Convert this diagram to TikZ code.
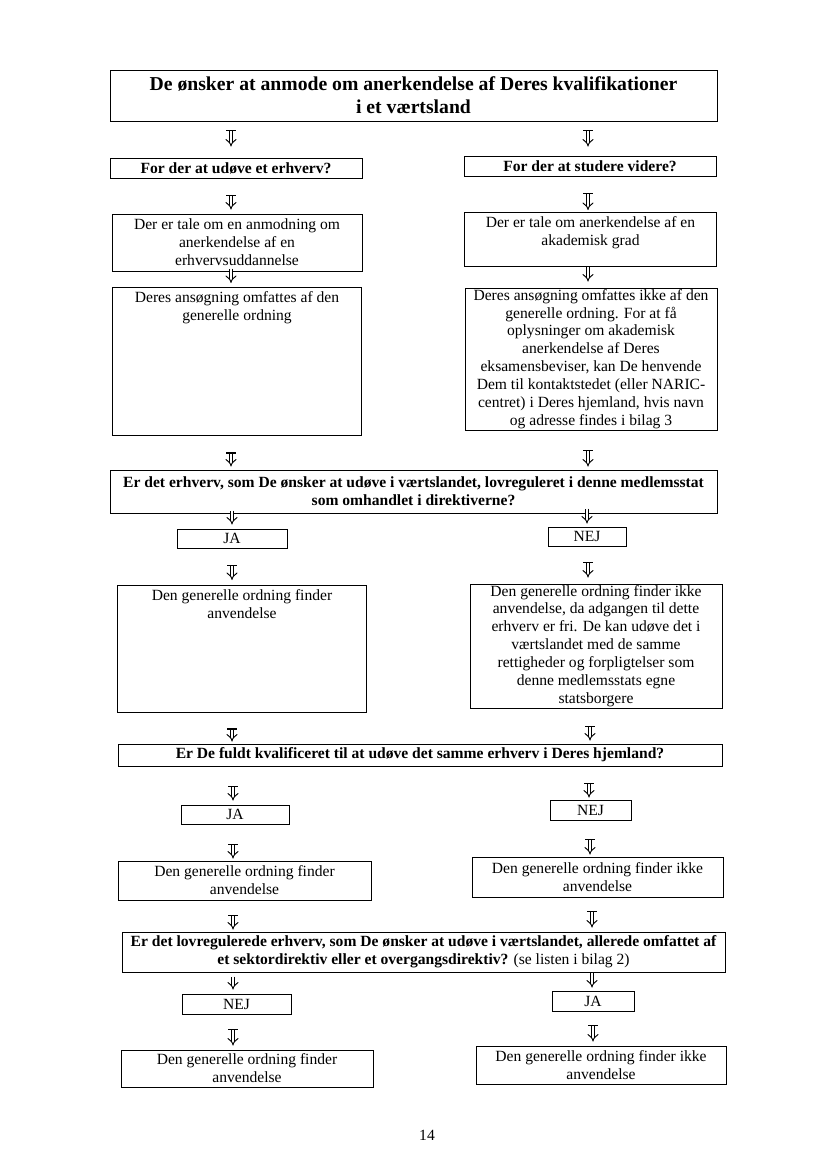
\documentclass[tikz,border=0pt]{standalone}
\usepackage{fontspec}
\setmainfont{Liberation Serif}
\usetikzlibrary{arrows.meta,calc}
\newlength\px \setlength\px{0.03cm}
\tikzset{
  bx/.style={draw, line width=0.85pt, inner sep=0pt, align=center, font=\fontsize{13.3}{15.3}\selectfont},
  qbx/.style={bx, font=\bfseries\fontsize{13.3}{15.4}\selectfont},
  tbx/.style={bx, font=\bfseries\fontsize{16.8}{19.5}\selectfont},
  topbx/.style={draw, line width=0.85pt, inner sep=0pt, anchor=north west, font=\fontsize{13.3}{15.3}\selectfont},
  dar/.style={double, double distance=2.5pt, line width=0.8pt, -{Implies}},
  barln/.style={line width=1.1pt},
}
\newcommand\conn[5]{\draw[dar, shorten <=#4*\px, shorten >=#5*\px] (#1.south -| #3,0) -- (#2.north -| #3,0);}
\newcommand\bconn[5]{\conn{#1}{#2}{#3}{#4}{#5}\draw[barln] ($(#1.south -| #3,0)+(-5*\px,-#4*\px)$) -- ++(10*\px,0pt);}
\begin{document}
\begin{tikzpicture}[x=0.03cm, y=-0.03cm]
\useasboundingbox[fill=white] (0,0) rectangle (827,1163);

\node[tbx, minimum width=607*\px, minimum height=51*\px] (title) at (413.5,95.5) {De ønsker at anmode om anerkendelse af Deres kvalifikationer\\ i et værtsland};

\node[qbx, minimum width=252*\px, minimum height=20*\px] (b1) at (236,168) {For der at udøve et erhverv?};
\node[qbx, minimum width=252*\px, minimum height=20*\px] (b2) at (590,166) {For der at studere videre?};

\node[bx, minimum width=250*\px, minimum height=57*\px] (c1) at (237,242.5) {Der er tale om en anmodning om\\ anerkendelse af en\\ erhvervsuddannelse};
\node[topbx] (c2) at (464,212) {\parbox[t][54\px][t]{252\px}{\centering\rule{0pt}{15\px}Der er tale om anerkendelse af en\\ akademisk grad}};

\node[topbx] (d1) at (112,287) {\parbox[t][148\px][t]{249\px}{\centering\rule{0pt}{15\px}Deres ansøgning omfattes af den\\ generelle ordning}};
\node[bx, minimum width=252*\px, minimum height=142*\px] (d2) at (591,359) {Deres ansøgning omfattes ikke af den\\ generelle ordning. For at få\\ oplysninger om akademisk\\ anerkendelse af Deres\\ eksamensbeviser, kan De henvende\\ Dem til kontaktstedet (eller NARIC-\\ centret) i Deres hjemland, hvis navn\\ og adresse findes i bilag 3};

\node[qbx, minimum width=607*\px, minimum height=43*\px] (q1) at (413.5,491.5) {Er det erhverv, som De ønsker at udøve i værtslandet, lovreguleret i denne medlemsstat\\ som omhandlet i direktiverne?};

\node[bx, minimum width=110*\px, minimum height=19*\px] (ja1) at (232,538.5) {JA};
\node[bx, minimum width=78*\px, minimum height=19*\px] (nej1) at (587,536.5) {NEJ};

\node[topbx] (e1) at (117,585) {\parbox[t][127\px][t]{249\px}{\centering\rule{0pt}{15\px}Den generelle ordning finder\\ anvendelse}};
\node[bx, minimum width=252*\px, minimum height=124*\px] (e2) at (596,646) {Den generelle ordning finder ikke\\ anvendelse, da adgangen til dette\\ erhverv er fri. De kan udøve det i\\ værtslandet med de samme\\ rettigheder og forpligtelser som\\ denne medlemsstats egne\\ statsborgere};

\node[qbx, minimum width=604*\px, minimum height=22*\px] (q2) at (420,755) {Er De fuldt kvalificeret til at udøve det samme erhverv i Deres hjemland?};

\node[bx, minimum width=108*\px, minimum height=19*\px] (ja2) at (235,814.5) {JA};
\node[bx, minimum width=81*\px, minimum height=20*\px] (nej2) at (590.5,810) {NEJ};

\node[bx, minimum width=253*\px, minimum height=39*\px] (f1) at (244.5,880.5) {Den generelle ordning finder\\ anvendelse};
\node[bx, minimum width=251*\px, minimum height=40*\px] (f2) at (597.5,877) {Den generelle ordning finder ikke\\ anvendelse};

\node[qbx, minimum width=603*\px, minimum height=40*\px] (q3) at (423.5,952) {Er det lovregulerede erhverv, som De ønsker at udøve i værtslandet, allerede omfattet af\\ et sektordirektiv eller et overgangsdirektiv? \mdseries(se listen i bilag 2)};

\node[bx, minimum width=109*\px, minimum height=20*\px] (nej3) at (236.5,1004) {NEJ};
\node[bx, minimum width=82*\px, minimum height=20*\px] (ja3) at (593,1001) {JA};

\node[bx, minimum width=252*\px, minimum height=37*\px] (g1) at (247,1068.5) {Den generelle ordning finder\\ anvendelse};
\node[bx, minimum width=250*\px, minimum height=38*\px] (g2) at (601,1065) {Den generelle ordning finder ikke\\ anvendelse};

\node[font=\fontsize{13.3}{15}\selectfont] (pg) at (427,1135) {14};

% connectors
\bconn{title}{b1}{231}{9}{11}
\bconn{title}{b2}{588}{9}{9}
\bconn{b1}{c1}{231}{17}{4}
\bconn{b2}{c2}{588}{17}{2}
\conn{c1}{d1}{231}{-3}{4}
\conn{c2}{d2}{588}{0}{6}
\bconn{d1}{q1}{231}{17}{3}
\bconn{d2}{q1}{588}{20}{3}
\conn{q1}{ja1}{232}{-3}{4}
\conn{q1}{nej1}{587}{-5}{3}
\bconn{ja1}{e1}{232}{17}{5}
\bconn{nej1}{e2}{588}{16}{6}
\bconn{e1}{q2}{232}{16}{2}
\bconn{e2}{q2}{590}{18}{3}
\bconn{q2}{ja2}{233}{20}{4}
\bconn{q2}{nej2}{589}{17}{2}
\bconn{ja2}{f1}{233}{20}{2}
\bconn{nej2}{f2}{590}{19}{2}
\bconn{f1}{q3}{233}{15}{2}
\bconn{f2}{q3}{592}{14}{4}
\conn{q3}{nej3}{233}{4}{4}
\conn{q3}{ja3}{592}{0}{3}
\bconn{nej3}{g1}{233}{15}{4}
\bconn{ja3}{g2}{593}{14}{4}
\end{tikzpicture}
\end{document}
